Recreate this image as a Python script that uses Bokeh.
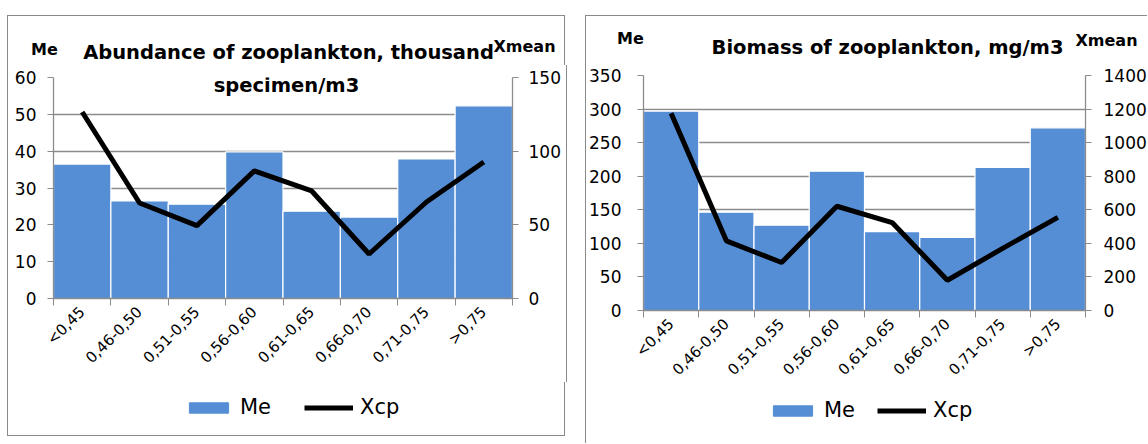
import math
from bokeh.plotting import figure
from bokeh.models import (Range1d, LinearAxis, FixedTicker, SingleIntervalTicker,
                          Legend, LegendItem, Label, Spacer)
from bokeh.layouts import row, column
from bokeh.embed import file_html
from bokeh.resources import INLINE

categories = ["<0,45", "0,46-0,50", "0,51-0,55", "0,56-0,60",
              "0,61-0,65", "0,66-0,70", "0,71-0,75", ">0,75"]

abund_me = [36.5, 26.5, 25.6, 39.8, 23.7, 22.1, 37.9, 52.3]
abund_xcp = [126.6, 64.8, 49.5, 86.6, 73.0, 30.2, 65.5, 92.6]

biom_me = [297, 146.5, 127, 207.5, 117.6, 109, 213, 272]
biom_xcp = [1175, 415, 286, 621, 524, 180, 370, 555]

series_names = ["Me", "Xcp"]

FONT = "DejaVu Sans"
BAR = "#558ed5"
GRAY = "#8c8c8c"
BORDER = "1px solid #8a8a8a"


def blank_figure(width, height):
    f = figure(width=width, height=height, output_backend="svg", toolbar_location=None,
               x_range=Range1d(0, width), y_range=Range1d(0, height),
               x_axis_location=None, y_axis_location=None,
               min_border=0, min_border_left=0, min_border_right=0,
               min_border_top=0, min_border_bottom=0)
    f.grid.visible = False
    f.outline_line_color = None
    return f


def make_header(width, height, texts):
    h = blank_figure(width, height)
    for txt, x, y, size in texts:
        h.add_layout(Label(x=x, y=y, text=txt, text_font=FONT, text_font_style="bold",
                           text_font_size=size, text_align="center",
                           text_baseline="middle", text_color="black"))
    return h


def make_footer(width, height, me, xcp, loc, spacing):
    f = blank_figure(width, height)
    n = len(categories)
    centers = [i + 0.5 for i in range(n)]
    # hidden copies of the series: they only supply the legend swatches
    r_bar = f.vbar(x=centers, top=me, width=1, fill_color=BAR, line_color=BAR, visible=False)
    r_line = f.line(x=centers, y=xcp, line_color="black", line_width=5, visible=False)
    legend = Legend(items=[LegendItem(label=series_names[0], renderers=[r_bar]),
                           LegendItem(label=series_names[1], renderers=[r_line])],
                    location=loc, orientation="horizontal",
                    glyph_width=49, glyph_height=13, label_standoff=7,
                    spacing=spacing, padding=0, margin=0,
                    border_line_color=None, background_fill_alpha=0,
                    inactive_fill_alpha=0,
                    label_text_font=FONT, label_text_font_size="21px",
                    label_text_color="black")
    f.add_layout(legend)
    return f


def make_chart(me, xcp, left_max, left_step, right_max, right_step,
               inner_texts, width, height, mb, frame_w, frame_h, lstand, rstand):
    n = len(categories)
    centers = [i + 0.5 for i in range(n)]
    p = figure(width=width, height=height, output_backend="svg", toolbar_location=None,
               x_range=Range1d(0, n), y_range=Range1d(0, left_max),
               min_border_left=mb[0], min_border_right=mb[1],
               min_border_top=mb[2], min_border_bottom=mb[3])
    p.frame_width = frame_w
    p.frame_height = frame_h
    p.outline_line_color = None
    p.extra_y_ranges = {"right": Range1d(0, right_max)}

    p.xgrid.visible = False
    p.ygrid.grid_line_color = GRAY
    p.ygrid.grid_line_width = 1.3
    p.ygrid.ticker = SingleIntervalTicker(interval=left_step)

    xa = p.xaxis[0]
    xa.ticker = FixedTicker(ticks=centers, minor_ticks=list(range(n + 1)))
    xa.major_label_overrides = {c: cat for c, cat in zip(centers, categories)}
    xa.major_label_orientation = math.pi / 4
    xa.major_tick_out = 0
    xa.major_tick_in = 0
    xa.minor_tick_out = 7
    xa.minor_tick_in = 0
    xa.minor_tick_line_color = GRAY
    xa.axis_line_color = GRAY
    xa.axis_line_width = 1.3
    xa.major_label_text_font = FONT
    xa.major_label_text_font_size = "15px"
    xa.major_label_text_color = "black"
    xa.major_label_standoff = 4

    ya = p.yaxis[0]
    ya.ticker = SingleIntervalTicker(interval=left_step)
    ya.minor_tick_line_color = None
    ya.major_tick_out = 6
    ya.major_tick_in = 0
    ya.major_tick_line_color = GRAY
    ya.axis_line_color = GRAY
    ya.axis_line_width = 1.3
    ya.major_label_text_font = FONT
    ya.major_label_text_font_size = "17px"
    ya.major_label_text_color = "black"
    ya.major_label_standoff = lstand

    ra = LinearAxis(y_range_name="right", ticker=SingleIntervalTicker(interval=right_step))
    ra.minor_tick_line_color = None
    ra.major_tick_out = 6
    ra.major_tick_in = 0
    ra.major_tick_line_color = GRAY
    ra.axis_line_color = GRAY
    ra.axis_line_width = 1.3
    ra.major_label_text_font = FONT
    ra.major_label_text_font_size = "17px"
    ra.major_label_text_color = "black"
    ra.major_label_standoff = rstand
    p.add_layout(ra, "right")

    p.vbar(x=centers, top=me, width=1.0, fill_color=BAR, line_color="white", line_width=1.2)
    p.line(x=centers, y=xcp, y_range_name="right", line_color="black", line_width=5)

    for txt, x, y, size in inner_texts:
        p.add_layout(Label(x=x, y=y, x_units="screen", y_units="screen", text=txt,
                           text_font=FONT, text_font_style="bold", text_font_size=size,
                           text_align="center", text_baseline="middle", text_color="black"))
    return p


# left chart
h1 = make_header(558, 50, [("Abundance of zooplankton, thousand", 280, 14, "19.5px"),
                           ("Me", 36, 17.5, "16px"),
                           ("Xmean", 516, 20, "16px")])
p1 = make_chart(abund_me, abund_xcp, 60, 10, 150, 50,
                [("specimen/m3", 233, 213, "19.5px")],
                width=558, height=317, mb=(45, 56, 12, 84), frame_w=457, frame_h=221,
                lstand=11, rstand=10)
f1 = make_footer(558, 54, abund_me, abund_xcp, (176, 17), 33)
h1.styles = {"border-top": BORDER, "border-left": BORDER, "border-right": BORDER}
p1.styles = {"border-left": BORDER, "border-right": BORDER}
f1.styles = {"border-bottom": BORDER, "border-left": BORDER, "border-right": BORDER}

# right chart
h2 = make_header(562, 50, [("Biomass of zooplankton, mg/m3", 301, 19, "19.5px"),
                           ("Me", 44, 28.5, "16px"),
                           ("Xmean", 520, 26, "16px")])
p2 = make_chart(biom_me, biom_xcp, 350, 50, 1400, 200, [],
                width=562, height=323, mb=(56, 65, 10, 78), frame_w=441, frame_h=235,
                lstand=16, rstand=12)
f2 = make_footer(562, 55, biom_me, biom_xcp, (182, 21), 22)
h2.styles = {"border-top": BORDER, "border-left": BORDER}
p2.styles = {"border-left": BORDER}
f2.styles = {"border-left": BORDER}

layout = column(Spacer(height=15),
                row(Spacer(width=7), column(row(h1), row(p1), row(f1)), Spacer(width=18),
                    column(row(h2), row(p2), row(f2))))

open("out.html", "w").write(file_html(layout, INLINE))
